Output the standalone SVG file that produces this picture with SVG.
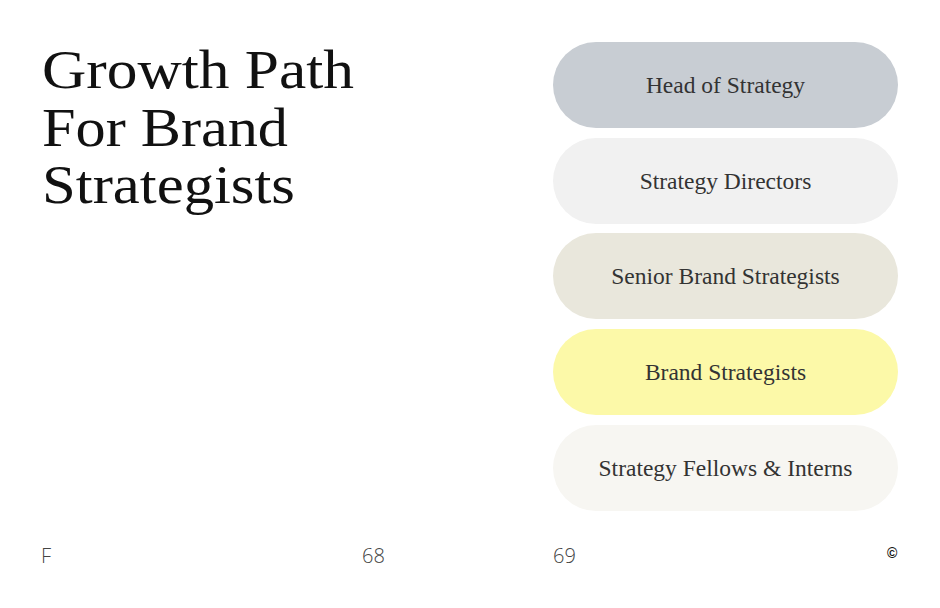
<svg xmlns="http://www.w3.org/2000/svg" width="940" height="608" viewBox="0 0 940 608">
<style>
.t{font-family:"Liberation Serif",serif;fill:#1a1a1a}
.title{font-size:55px;fill:#111}
.lbl{font-size:23.5px;text-anchor:middle;fill:#333}
.f{font-family:"Open Sans","Liberation Sans",sans-serif;font-size:20px;fill:#444;font-weight:300}
</style>
<rect width="940" height="608" fill="#fff"/>
<g id="title">
<text class="t title" x="42" y="88" textLength="312" lengthAdjust="spacingAndGlyphs">Growth Path</text>
<text class="t title" x="42" y="146" textLength="246" lengthAdjust="spacingAndGlyphs">For Brand</text>
<text class="t title" x="42" y="203" textLength="253" lengthAdjust="spacingAndGlyphs">Strategists</text>
</g>
<g id="n1"><rect x="553" y="42" width="345" height="86" rx="43" fill="#c8cdd3"/><text class="t lbl" x="725.5" y="93">Head of Strategy</text></g>
<g id="n2"><rect x="553" y="138" width="345" height="86" rx="43" fill="#f1f1f1"/><text class="t lbl" x="725.5" y="189">Strategy Directors</text></g>
<g id="n3"><rect x="553" y="233" width="345" height="86" rx="43" fill="#e9e7dc"/><text class="t lbl" x="725.5" y="284">Senior Brand Strategists</text></g>
<g id="n4"><rect x="553" y="329" width="345" height="86" rx="43" fill="#fcf9a8"/><text class="t lbl" x="725.5" y="380">Brand Strategists</text></g>
<g id="n5"><rect x="553" y="425" width="345" height="86" rx="43" fill="#f7f6f2"/><text class="t lbl" x="725.5" y="476">Strategy Fellows &amp; Interns</text></g>
<g id="connectors"></g>
<g id="footer">
<text class="f" x="41" y="563">F</text>
<text class="f" x="362" y="563">68</text>
<text class="f" x="553" y="563">69</text>
<text x="887" y="558" font-family="Liberation Sans,sans-serif" font-size="14" font-weight="bold" fill="#111">©</text>
</g>
</svg>
